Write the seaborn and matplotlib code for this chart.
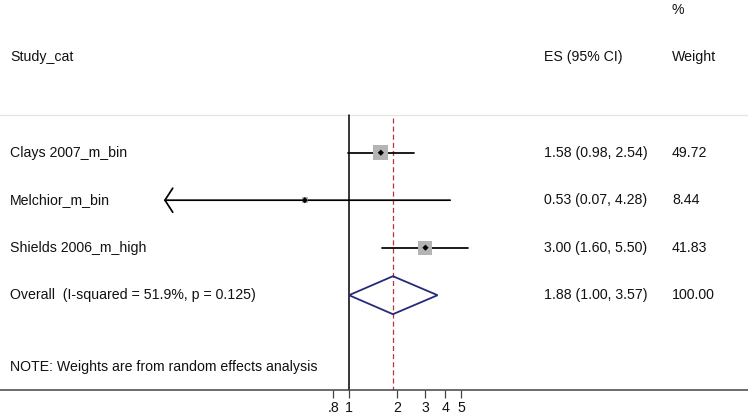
import numpy as np
import matplotlib
matplotlib.use("Agg")
import matplotlib.pyplot as plt
import seaborn as sns

# study rows
studies = ["Clays 2007_m_bin", "Melchior_m_bin", "Shields 2006_m_high"]
es = [1.58, 0.53, 3.00]
ci_lo = [0.98, 0.07, 1.60]
ci_hi = [2.54, 4.28, 5.50]
weights = [49.72, 8.44, 41.83]

# pooled estimate
overall_label = "Overall  (I-squared = 51.9%, p = 0.125)"
overall_es = 1.88
overall_lo = 1.00
overall_hi = 3.57
overall_weight = 100.00

note = "NOTE: Weights are from random effects analysis"
tick_vals = [0.8, 1, 2, 3, 4, 5]
tick_labels = [".8", "1", "2", "3", "4", "5"]
arrow_clip = 0.1  # CIs below this get an arrow

sns.set_style("white")
plt.rcParams["font.family"] = ["Liberation Sans", "DejaVu Sans"]
plt.rcParams["font.size"] = 10.2

W, H = 748, 415
fig = plt.figure(figsize=(W / 100, H / 100), dpi=100)
ax = fig.add_axes([0, 0, 1, 1])

# log x scale, 1 sits at pixel 349, 69.6 px per ln unit
px_per_ln = 69.6
x0_px = 349
ax.set_xscale("log")
ax.set_xlim(np.exp(-x0_px / px_per_ln), np.exp((W - x0_px) / px_per_ln))

# rows: y = row index, row 0 at pixel 152.7, 47.5 px per row
row0_px, row_px = 152.7, 47.5
ax.set_ylim((H - row0_px) / row_px, -row0_px / row_px)

def prow(p):
    return (p - row0_px) / row_px

def fx(p):
    return p / W

rows = np.arange(len(studies))
y_axis = prow(390)
y_top = prow(115)

ink = "#111111"
navy = "#262a78"

# faint top border and null line
ax.axhline(y_top, color="#e4e4e4", lw=0.9, zorder=1)
ax.plot([1, 1], [y_top, y_axis], color="black", lw=1.1, zorder=2)
ax.plot([overall_es, overall_es], [prow(118), y_axis], color="#b8323f",
        lw=0.9, dashes=(4, 2.5), zorder=2)

# CI lines
for y, lo, hi in zip(rows, ci_lo, ci_hi):
    if lo < arrow_clip:
        ax.annotate("", xy=(lo, y), xytext=(hi, y),
                    arrowprops=dict(arrowstyle="->,head_length=0.55,head_width=0.85",
                                    lw=1.25, color="black", shrinkA=0, shrinkB=0),
                    zorder=3)
    else:
        ax.plot([lo, hi], [y, y], color="black", lw=1.25, zorder=3)

# weight boxes and point estimates
box_s = [121 * w / weights[0] for w in weights]
sns.scatterplot(x=es, y=rows, s=box_s, marker="s", color="#b4b4b4",
                edgecolor="none", ax=ax, zorder=4, legend=False)
sns.scatterplot(x=es, y=rows, s=10, marker="D", color="black",
                edgecolor="none", ax=ax, zorder=5, legend=False)

# overall diamond
yo = len(studies)
dh = 0.4
ax.fill([overall_lo, overall_es, overall_hi, overall_es],
        [yo, yo - dh, yo, yo + dh], facecolor="none", edgecolor=navy,
        lw=1.3, zorder=4)

# text columns
tr = ax.get_yaxis_transform()
y_head = prow(57)
ax.text(fx(10), y_head, "Study_cat", transform=tr, va="center", color=ink)
ax.text(fx(544), y_head, "ES (95% CI)", transform=tr, va="center", color=ink)
ax.text(fx(672), y_head, "Weight", transform=tr, va="center", color=ink)
ax.text(fx(672), prow(10), "%", transform=tr, va="center", color=ink)

for y, name, e, lo, hi, w in zip(rows, studies, es, ci_lo, ci_hi, weights):
    ax.text(fx(10), y, name, transform=tr, va="center", color=ink)
    ax.text(fx(544), y, f"{e:.2f} ({lo:.2f}, {hi:.2f})", transform=tr,
            va="center", color=ink)
    ax.text(fx(672), y, f"{w:.2f}", transform=tr, va="center", color=ink)

ax.text(fx(10), yo, overall_label, transform=tr, va="center", color=ink)
ax.text(fx(544), yo, f"{overall_es:.2f} ({overall_lo:.2f}, {overall_hi:.2f})",
        transform=tr, va="center", color=ink)
ax.text(fx(672), yo, f"{overall_weight:.2f}", transform=tr, va="center", color=ink)
ax.text(fx(10), prow(367), note, transform=tr, va="center", color=ink)

# x axis
for side in ["top", "left", "right"]:
    ax.spines[side].set_visible(False)
ax.spines["bottom"].set_position(("data", y_axis))
ax.spines["bottom"].set_color("#444444")
ax.spines["bottom"].set_linewidth(1.1)
ax.set_xticks(tick_vals)
ax.set_xticklabels(tick_labels)
ax.xaxis.set_minor_locator(matplotlib.ticker.NullLocator())
ax.tick_params(axis="x", direction="out", length=6, width=0.9, pad=2,
               colors="#444444", labelcolor=ink, bottom=True)
ax.set_yticks([])
ax.set_xlabel("")
ax.set_ylabel("")

fig.savefig("out.png", dpi=100)
